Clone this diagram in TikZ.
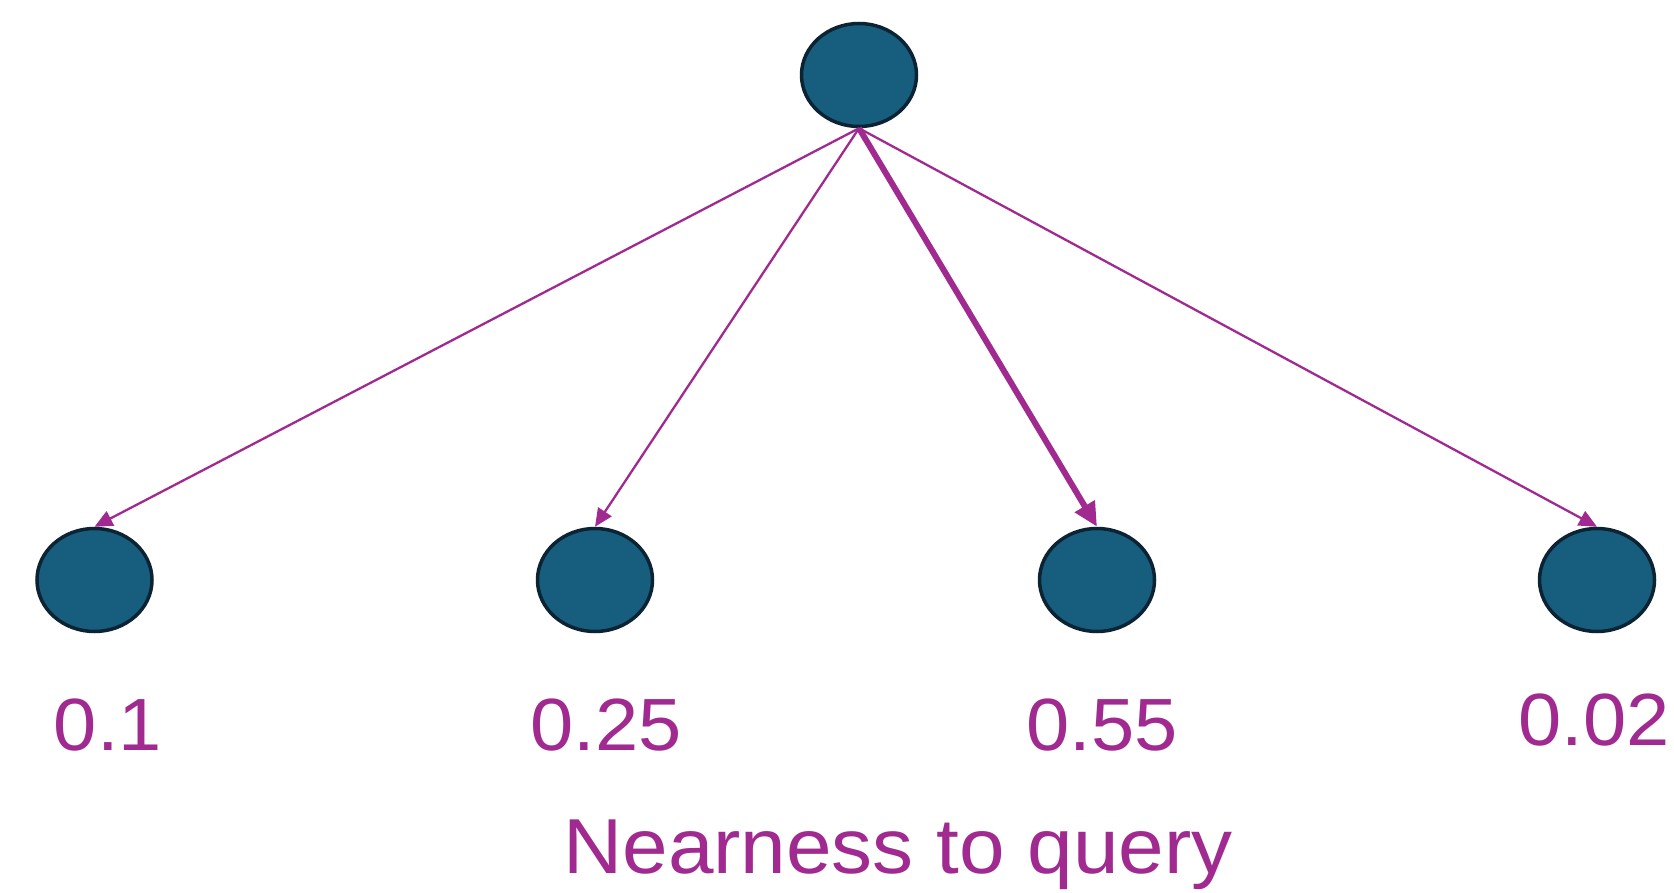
\documentclass[tikz,border=0pt]{standalone}
\usepackage{fontspec}
\newfontfamily\labfont[FakeStretch=1.05]{Liberation Sans}
\usetikzlibrary{shapes.geometric,arrows.meta}
\definecolor{nodefill}{HTML}{175E7E}
\definecolor{nodeline}{HTML}{0B2333}
\definecolor{purp}{HTML}{A02A90}
\tikzset{
  blob/.style={ellipse,draw=nodeline,fill=nodefill,line width=3.5pt,inner sep=0pt,minimum width=115pt,minimum height=103pt},
  conn/.style={draw=purp,line width=2.3pt,-{Triangle[length=18pt,width=16pt]}},
  connbold/.style={draw=purp,line width=6pt,-{Triangle[length=24pt,width=22pt]}},
  numlab/.style={text=purp,font=\labfont\fontsize{74}{80}\selectfont,anchor=base,inner sep=0pt},
  titlelab/.style={text=purp,font=\labfont\fontsize{78}{86}\selectfont,anchor=base,inner sep=0pt}
}
\begin{document}
\begin{tikzpicture}[x=1pt,y=-1pt]
\useasboundingbox (0,0) rectangle (1674,893);
\node[blob] (top) at (859,75) {};
\node[blob] (b1) at (94.5,580) {};
\node[blob] (b2) at (595,580) {};
\node[blob] (b3) at (1097,580) {};
\node[blob] (b4) at (1597,580) {};
\draw[conn] (top.south) -- (b1.north);
\draw[conn] (top.south) -- (b2.north);
\draw[connbold] (top.south) -- (b3.north);
\draw[conn] (top.south) -- (b4.north);
\node[numlab] (l1) at (108,750) {0.1};
\node[numlab] (l2) at (606,750) {0.25};
\node[numlab] (l3) at (1102,750) {0.55};
\node[numlab] (l4) at (1594,745) {0.02};
\node[titlelab] (title) at (898,873) {Nearness to query};
\end{tikzpicture}
\end{document}
